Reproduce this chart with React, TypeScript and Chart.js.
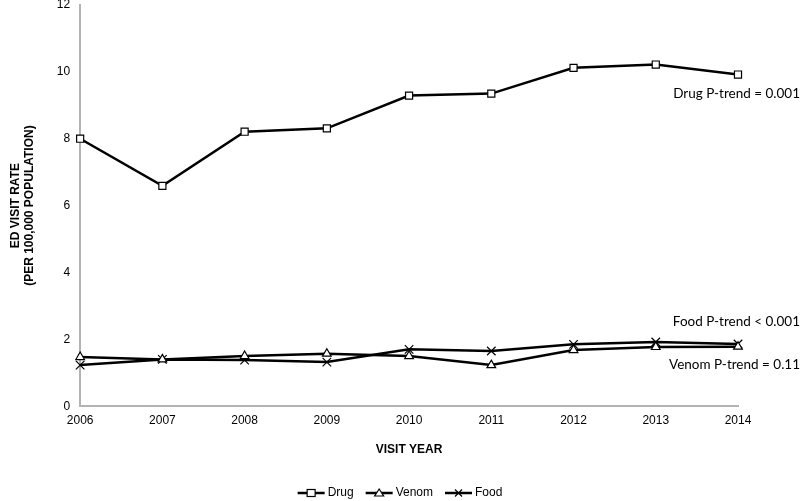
import React, { useEffect, useRef } from "react";
import { Chart, registerables } from "chart.js";

Chart.register(...registerables);

const years = ["2006", "2007", "2008", "2009", "2010", "2011", "2012", "2013", "2014"];
const drug = [8.0, 6.59, 8.21, 8.31, 9.29, 9.35, 10.12, 10.22, 9.92];
const venom = [1.47, 1.4, 1.5, 1.57, 1.5, 1.23, 1.68, 1.77, 1.78];
const food = [1.23, 1.4, 1.38, 1.32, 1.7, 1.65, 1.85, 1.92, 1.86];
const seriesNames = ["Drug", "Venom", "Food"];
const trendNotes = [
  { text: "Drug P-trend = 0.001", value: 9.92, dy: 19 },
  { text: "Food P-trend < 0.001", value: 1.86, dy: -22 },
  { text: "Venom P-trend = 0.11", value: 1.78, dy: 18 },
];

const AXIS_FONT = "'Liberation Sans', Arial, sans-serif";

function drawMarker(ctx: CanvasRenderingContext2D, style: string, cx: number, cy: number) {
  ctx.lineWidth = 1.2;
  ctx.fillStyle = "#fff";
  ctx.strokeStyle = "#000";
  if (style === "rect") {
    ctx.fillRect(cx - 4, cy - 3.5, 8, 7);
    ctx.strokeRect(cx - 4, cy - 3.5, 8, 7);
  } else if (style === "triangle") {
    ctx.beginPath();
    ctx.moveTo(cx, cy - 4);
    ctx.lineTo(cx + 4.5, cy + 3);
    ctx.lineTo(cx - 4.5, cy + 3);
    ctx.closePath();
    ctx.fill();
    ctx.stroke();
  } else {
    ctx.beginPath();
    ctx.moveTo(cx - 3.5, cy - 3.5);
    ctx.lineTo(cx + 3.5, cy + 3.5);
    ctx.moveTo(cx + 3.5, cy - 3.5);
    ctx.lineTo(cx - 3.5, cy + 3.5);
    ctx.stroke();
  }
}

export default function App() {
  const ref = useRef<HTMLCanvasElement>(null);
  useEffect(() => {
    document.body.style.margin = "0";
    const styles = ["rect", "triangle", "crossRot"];
    const notesPlugin = {
      id: "notes",
      afterDatasetsDraw(chart: any) {
        const ctx = chart.ctx as CanvasRenderingContext2D;
        const y = chart.scales.y;
        ctx.save();
        ctx.fillStyle = "#000";
        ctx.font = "13.5px Lato, sans-serif";
        ctx.textAlign = "right";
        ctx.textBaseline = "middle";
        trendNotes.forEach((n) => {
          ctx.fillText(n.text, 800, y.getPixelForValue(n.value) + n.dy);
        });
        // legend
        ctx.font = `12px ${AXIS_FONT}`;
        ctx.textAlign = "left";
        const iconW = 27;
        const gap = 3;
        const itemGap = 12;
        const widths = seriesNames.map((s) => iconW + gap + ctx.measureText(s).width);
        const total = widths.reduce((a, b) => a + b, 0) + itemGap * (seriesNames.length - 1);
        let x = chart.width / 2 - total / 2;
        const ly = 493;
        seriesNames.forEach((s, i) => {
          ctx.strokeStyle = "#000";
          ctx.lineWidth = 2.5;
          ctx.beginPath();
          ctx.moveTo(x, ly);
          ctx.lineTo(x + iconW, ly);
          ctx.stroke();
          drawMarker(ctx, styles[i], x + iconW / 2, ly);
          ctx.fillStyle = "#000";
          ctx.fillText(s, x + iconW + gap, ly);
          x += widths[i] + itemGap;
        });
        ctx.restore();
      },
    };
    const common = {
      borderColor: "#000",
      borderWidth: 2.5,
      pointBackgroundColor: "#fff",
      pointBorderColor: "#000",
      pointBorderWidth: 1.2,
      tension: 0,
    };
    const chart = new Chart(ref.current!, {
      type: "line",
      data: {
        labels: years,
        datasets: [
          { ...common, label: seriesNames[0], data: drug, pointStyle: "rect", pointRadius: 5 },
          { ...common, label: seriesNames[1], data: venom, pointStyle: "triangle", pointRadius: 5 },
          { ...common, label: seriesNames[2], data: food, pointStyle: "crossRot", pointRadius: 6 },
        ],
      },
      options: {
        animation: false,
        responsive: false,
        layout: { autoPadding: false, padding: { left: 4, right: 62, top: 0, bottom: 22 } },
        plugins: {
          tooltip: { enabled: false },
          legend: { display: false },
        },
        scales: {
          x: {
            offset: false,
            grid: { display: false, drawTicks: false },
            border: { color: "#b3b3b3", width: 2 },
            ticks: {
              color: "#000",
              padding: 7,
              font: { family: AXIS_FONT, size: 12 },
            },
            title: {
              display: true,
              text: "VISIT YEAR",
              color: "#000",
              font: { family: AXIS_FONT, size: 12, weight: "bold" },
              padding: { top: 8, bottom: 22 },
            },
          },
          y: {
            min: 0,
            max: 12,
            afterFit: (scale: any) => {
              scale.paddingTop = 5;
            },
            grid: { display: false, drawTicks: false },
            border: { color: "#b3b3b3", width: 2 },
            ticks: {
              stepSize: 2,
              color: "#000",
              padding: 10,
              font: { family: AXIS_FONT, size: 12 },
            },
            title: {
              display: true,
              text: ["ED VISIT RATE", "(PER 100,000 POPULATION)"],
              color: "#000",
              font: { family: AXIS_FONT, size: 12, weight: "bold" },
              padding: { top: 4, bottom: 10 },
            },
          },
        },
      },
      plugins: [notesPlugin],
    } as any);
    return () => chart.destroy();
  }, []);
  return (
    <div style={{ width: 800, height: 501 }}>
      <canvas ref={ref} width={800} height={501} style={{ display: "block" }} />
    </div>
  );
}
